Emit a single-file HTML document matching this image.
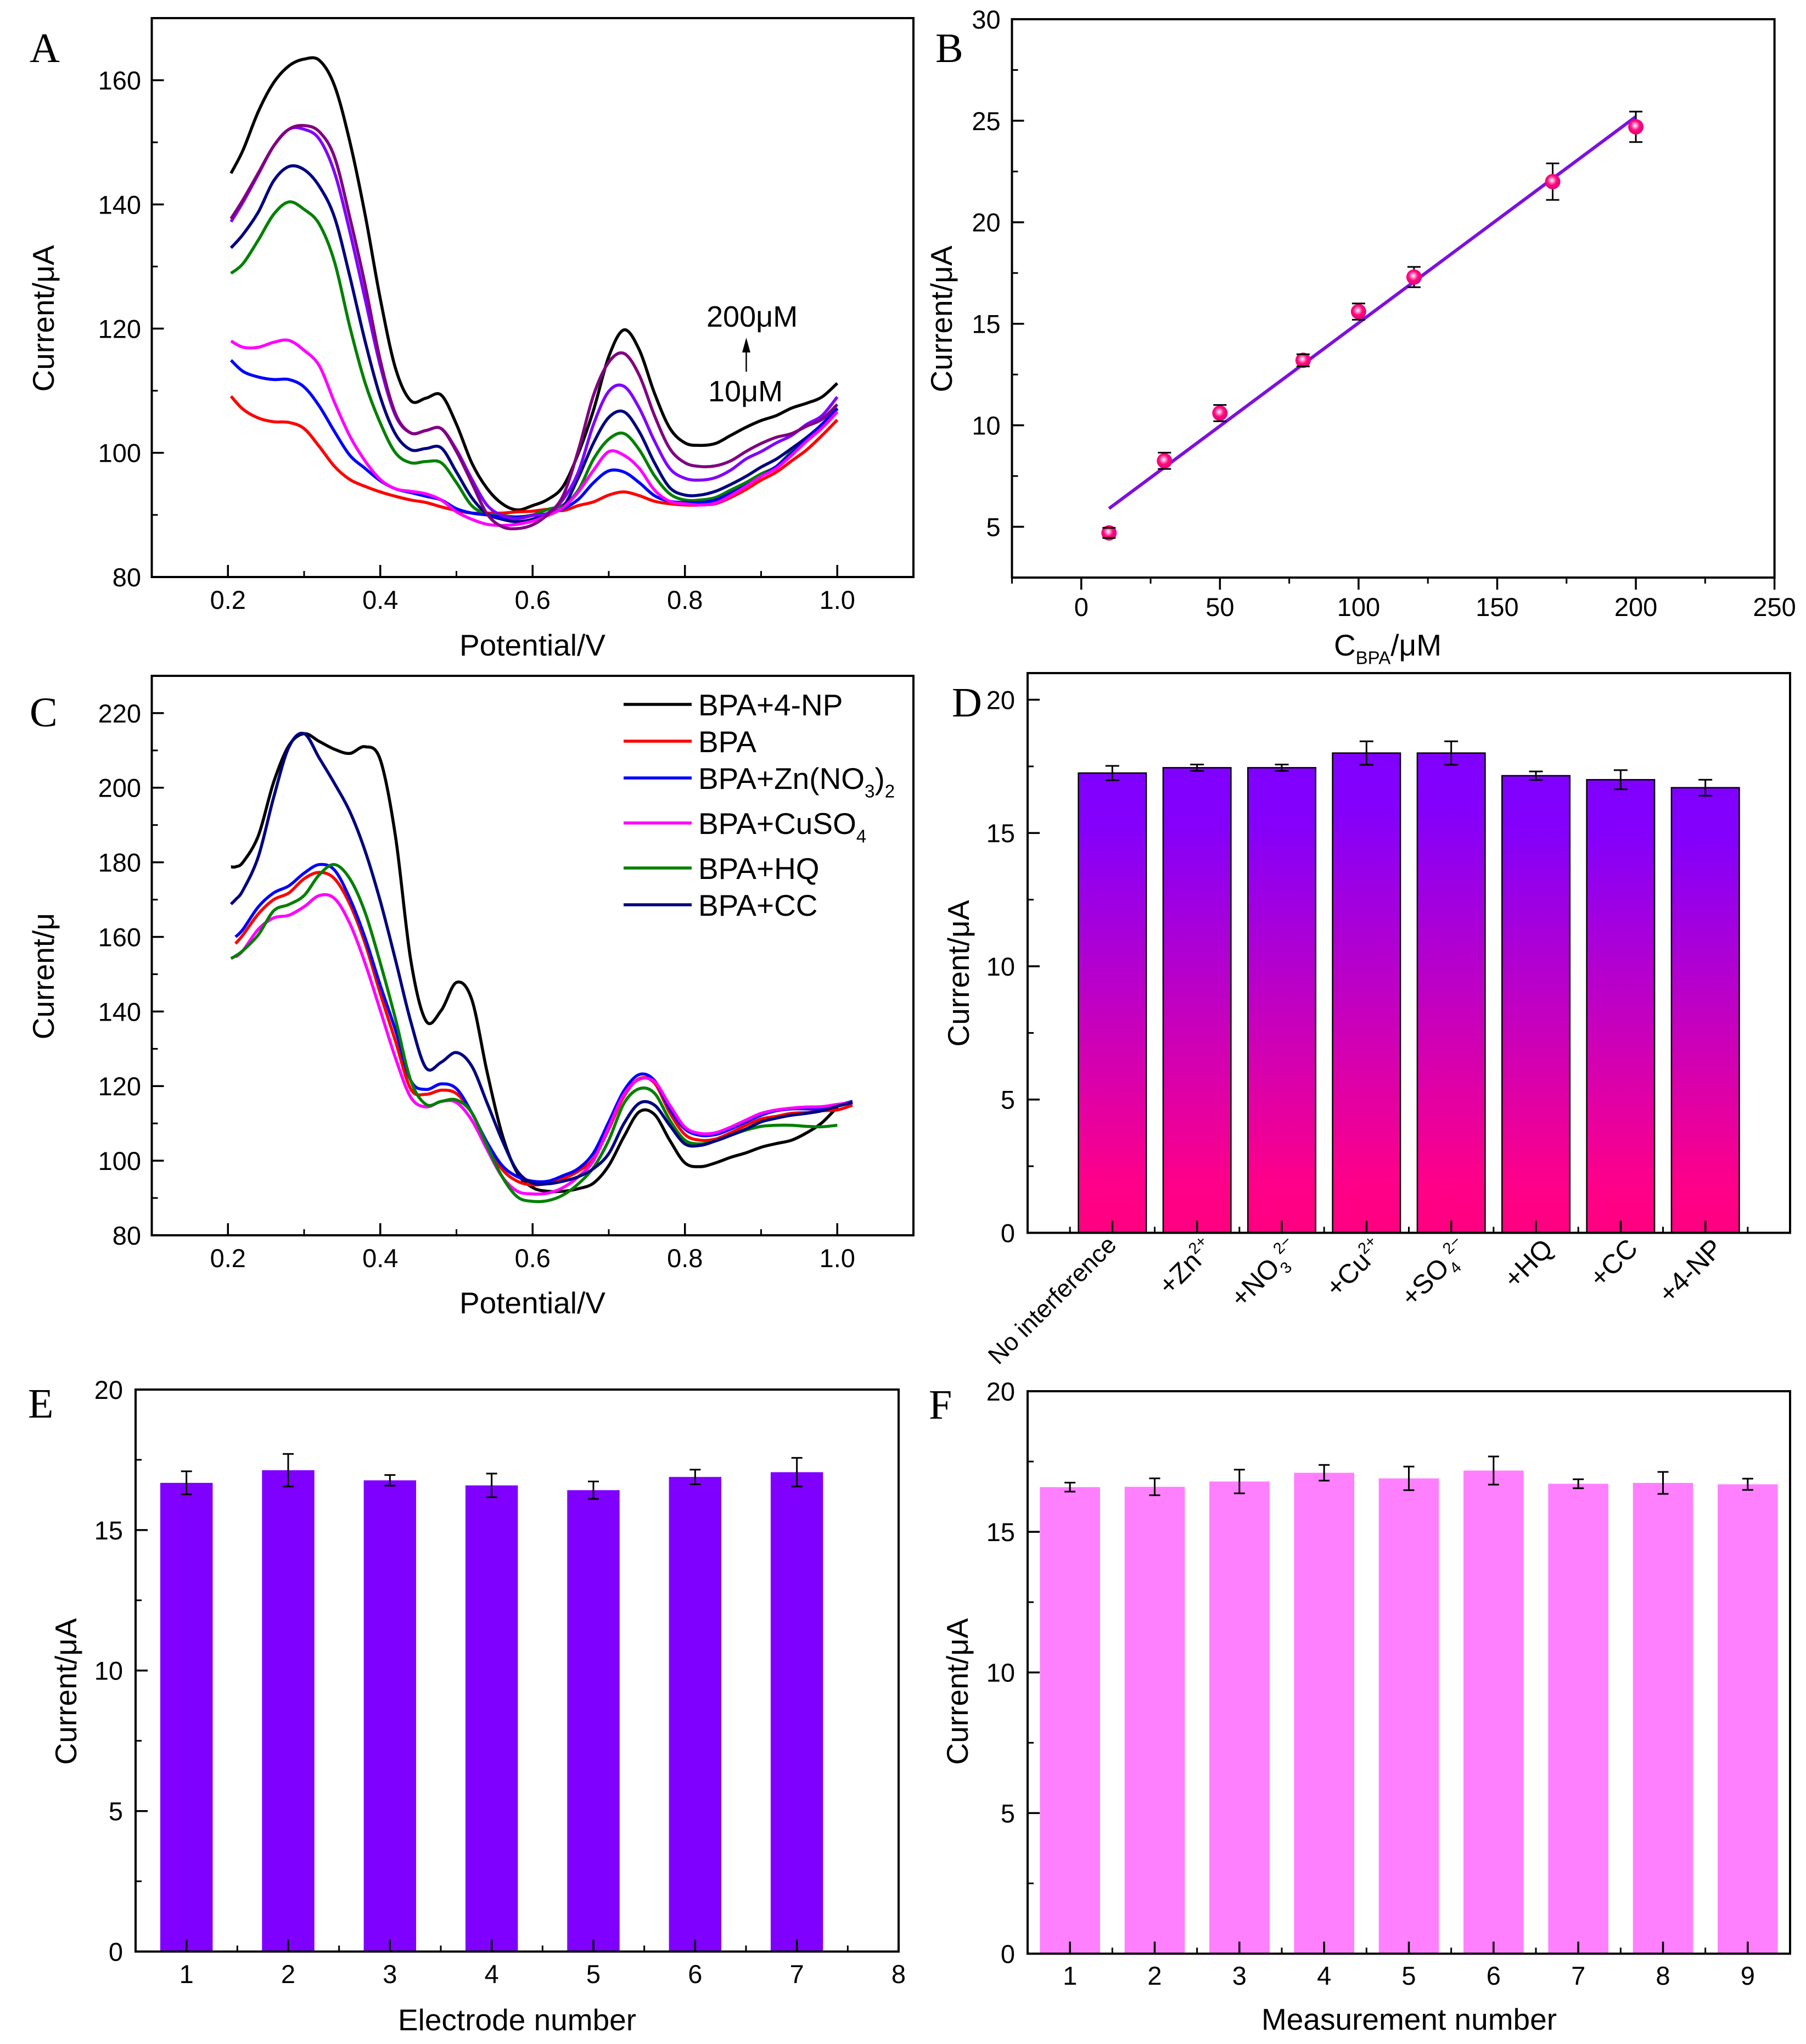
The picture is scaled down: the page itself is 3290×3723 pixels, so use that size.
<!DOCTYPE html>
<html lang="en">
<head>
<meta charset="utf-8">
<title>Electrochemical detection of BPA, six-panel figure</title>
<style>
html,body{margin:0;padding:0;background:#fff;}
svg{display:block;}
text{font-family:"Liberation Sans",sans-serif;fill:#000;}
</style>
</head>
<body>
<svg id="figure" xmlns="http://www.w3.org/2000/svg" width="3290" height="3723" viewBox="0 0 3290 3723">
  <defs>
    <linearGradient id="barGradient" x1="0" y1="0" x2="0" y2="1">
      <stop offset="0" stop-color="#8000ff"/>
      <stop offset="0.12" stop-color="#8400fb"/>
      <stop offset="0.9" stop-color="#ff0088"/>
      <stop offset="1" stop-color="#ff0080"/>
    </linearGradient>
    <radialGradient id="markerGradient" cx="0.45" cy="0.42" r="0.55">
      <stop offset="0" stop-color="#ffffff"/>
      <stop offset="0.25" stop-color="#ff90c8"/>
      <stop offset="0.55" stop-color="#ff0a80"/>
      <stop offset="1" stop-color="#e80078"/>
    </radialGradient>
  </defs>
</svg>
<script>
// ---------- Panel A data ----------
const aPotential = [0.204,0.22,0.24,0.26,0.28,0.30,0.32,0.34,0.36,0.38,0.40,0.42,0.44,0.46,0.48,0.50,0.52,0.54,0.56,0.58,0.60,0.62,0.64,0.66,0.68,0.70,0.72,0.74,0.76,0.78,0.80,0.82,0.84,0.86,0.88,0.90,0.92,0.94,0.96,0.98,1.0];
const a200uM = [145,148.8,155,159.6,162.3,163.4,163.2,159.1,150.1,138.4,124.8,113.6,108.4,108.8,109.3,104.6,98.4,94.3,91.8,90.8,91.5,92.5,94.6,99.9,106.9,115.5,119.8,116.6,109.6,104,101.6,101.2,101.5,102.8,104.1,105.2,106,107.2,108,109,111.2];
const a170uM = [137.7,140.8,145.1,149.4,152.1,152.7,151.7,147.6,137.9,127.1,114.9,106.3,103.2,103.6,103.9,100.2,95.2,90.2,88.1,87.8,88.4,90.1,93.1,100.4,109.3,114.6,116,112.5,106,100.7,98.4,97.8,97.9,98.7,100.2,101.5,102.5,103.1,104.3,105.4,107.8];
const a120uM = [137.2,140.4,144.9,149.4,152.1,152.1,150.5,145.1,135.6,124.8,114,106,103.2,103.6,103.9,100.5,95.8,91.6,89.9,89.4,89.9,90.3,92.5,96.9,104.6,109.9,110.7,107.2,101.9,97.5,95.9,95.6,96,97.2,99,100.2,101.6,102.8,104.6,106,109];
const a100uM = [133,135.2,138.8,143.8,146.1,145.6,142.9,137.9,128.4,118,109,103,100.5,100.7,100.8,96.9,92.8,90.2,89.3,88.9,89.3,90.2,91.3,96,101.6,105.7,106.6,103.4,98.4,94.4,93.2,93.2,93.8,94.9,96.2,97.7,99,100.7,102.5,104.6,107.1];
const a80uM = [128.9,130.5,134.3,138.4,140.4,139.2,136.8,130.7,120.3,111.3,104.8,100,98.4,98.6,98.4,95.2,91.5,90.2,89.9,89.7,90,90.9,91.6,94,99,102.2,103.1,100.5,96.3,93.4,92.4,92.4,92.8,94,95.2,96.6,97.8,100.2,102.2,104.6,107.2];
const a50uM = [118,117,117,117.8,118.1,116.5,114,108.1,102.7,98.7,95.7,94.2,93.8,93.4,92.4,90.5,89.3,88.5,88.3,88.5,89,89.9,91.2,93.7,97.2,100.2,99.6,97.5,94,92.2,91.8,91.6,91.9,93.1,94.6,96.2,97.5,99.6,101.9,104,106.6];
const a30uM = [114.9,113.1,112.2,111.8,111.8,110.6,107.5,103.4,99.6,97.5,95.5,94.2,93.6,93,92.4,91,90.3,90,89.6,89.6,89.9,90.2,91,92.5,95.2,97.1,96.9,95.2,93.1,92.2,92,92,92.4,93.5,94.7,96.2,97.8,99.9,102.2,104.6,107.1];
const a10uM = [109.1,107,105.6,105,104.9,103.9,101,97.8,95.7,94.6,93.7,93,92.4,92,91.3,90.7,90.3,90.3,90.3,90.5,90.6,90.9,90.7,91.5,92.1,93.2,93.7,93.1,92.2,91.8,91.6,91.6,91.8,92.8,94.1,95.6,96.9,98.7,100.5,102.8,105.3];

// ---------- Panel B data ----------
const bConcentration = [10,30,50,80,100,120,170,200];
const bCurrent = [4.7,8.25,10.6,13.2,15.6,17.3,22,24.7];
const bError = [0.25,0.4,0.4,0.3,0.4,0.5,0.9,0.75];
const bFitX = [10,200];
const bFitY = [5.9,25.2];

// ---------- Panel C data ----------
const cPotential = [0.204,0.21,0.22,0.24,0.26,0.28,0.30,0.32,0.34,0.36,0.38,0.40,0.42,0.44,0.46,0.48,0.50,0.52,0.54,0.56,0.58,0.60,0.62,0.64,0.66,0.68,0.70,0.72,0.74,0.76,0.78,0.80,0.82,0.84,0.86,0.88,0.90,0.92,0.94,0.96,0.98,1.0,1.02];
const c4NP = [178.8,178.8,180.1,187.2,201.5,211.3,214.5,212.4,210.3,209.2,211,207.5,186.9,153.8,137.5,140.3,147.8,143.3,124,107,96.7,92.8,91.8,91.8,92.5,94,98.7,106.5,113.1,112.4,105.5,99.4,98.4,99.4,100.9,102.1,103.6,104.6,105.5,107.5,110.2,114.4,null];
const cBPA = [null,158.2,160.6,166.2,170,171.8,175.6,177.3,175.6,168.8,158.3,144.8,132,119.2,117.8,118.9,118,112.9,104.6,97.7,94.5,93.5,94,95.2,97.2,100.6,108.5,117.3,122,120.8,112.9,107,105.5,105.8,107.5,109.5,111.2,111.9,112.7,112.9,113.4,113.6,114.9];
const cZn = [null,160,162.1,168.1,171.8,173.7,177.1,179.4,177.9,170.3,159.8,147,135,121.5,119.1,120.6,119.3,112.9,105,98.7,95.7,94.5,94.5,96,97.9,102.1,110.4,118.8,123.1,121.5,113.9,108.5,106.8,107,108.5,110.4,112.2,113.4,113.9,113.9,113.9,114.9,115.9];
const cCu = [null,154.6,156.4,162.1,165.1,165.8,168.1,171.1,170.3,163.6,153,140.3,127.5,117,114.4,115.9,115.6,110.9,103.1,95.7,91.8,91.1,91.3,92.8,95.7,100.1,109,117.8,121.8,121.2,114.9,109,107.3,107.5,109,110.9,112.7,113.6,114.1,114.4,114.5,115.1,115.6];
const cHQ = [154.2,154.9,156.4,160.6,167,168.7,171.1,176.7,179.4,175.6,166.6,153,138,121.5,115.1,115.9,116.3,112.9,104.1,95.7,90.3,89.1,89.3,90.8,93.8,98.2,105.5,115.4,119.3,118.1,110.9,105.5,104.5,105.3,106.8,108.2,109.2,109.5,109.5,109.2,109.1,109.5,null];
const cCC = [168.8,170,172.6,181.6,197.4,210.9,214.5,207.9,201.1,193.6,183.1,169.6,153.8,137.3,124.9,126.4,129,125.4,115.6,105.5,97.2,94,93.8,94.5,95.7,97.9,101.9,110,115.4,114.9,109.5,104.5,104.1,105.3,106.8,108.5,110.4,111.4,112.2,112.7,113.4,114.6,115.6];
const cLegendLabels = ['BPA+4-NP','BPA','BPA+Zn(NO_{3})_{2}','BPA+CuSO_{4}','BPA+HQ','BPA+CC'];

// ---------- Panel D data ----------
const dCategories = ['No interference','+Zn^{2+}','+NO_{3}^{2−}','+Cu^{2+}','+SO_{4}^{2−}','+HQ','+CC','+4-NP'];
const dCurrent = [17.25,17.45,17.45,18,18,17.15,17,16.7];
const dError = [0.27,0.12,0.12,0.44,0.44,0.16,0.36,0.3];

// ---------- Panel E data ----------
const eElectrode = [1,2,3,4,5,6,7];
const eCurrent = [16.68,17.13,16.77,16.59,16.42,16.89,17.06];
const eError = [0.41,0.58,0.19,0.42,0.31,0.26,0.51];

// ---------- Panel F data ----------
const fMeasurement = [1,2,3,4,5,6,7,8,9];
const fCurrent = [16.59,16.6,16.79,17.1,16.9,17.18,16.71,16.74,16.69];
const fError = [0.16,0.3,0.42,0.28,0.42,0.5,0.16,0.39,0.2];

// ---------- Tick labels ----------
const aYTicks = [80,100,120,140,160];
const aYMinor = [90,110,130,150];
const vXTicks = ['0.2','0.4','0.6','0.8','1.0'];
const vXMinor = [0.3,0.5,0.7,0.9];
const bXTicks = [0,50,100,150,200,250];
const bXMinor = [-25,25,75,125,175,225];
const bYTicks = [5,10,15,20,25,30];
const bYMinor = [7.5,12.5,17.5,22.5,27.5];
const cYTicks = [80,100,120,140,160,180,200,220];
const cYMinor = [90,110,130,150,170,190,210];
const barYTicks = [0,5,10,15,20];
const barYMinor = [2.5,7.5,12.5,17.5];
const dXMinor = [0.5,1.5,2.5,3.5,4.5,5.5,6.5,7.5,8.5];
const eXTicks = [1,2,3,4,5,6,7,8];
const eXMinor = [1.5,2.5,3.5,4.5,5.5,6.5,7.5];
const fXMinor = [1.5,2.5,3.5,4.5,5.5,6.5,7.5,8.5];

// ---------- Helpers ----------
const NS = 'http://www.w3.org/2000/svg';
const root = document.getElementById('figure');

function make(tag, parent, attrs) {
  const node = document.createElementNS(NS, tag);
  for (const k in attrs) node.setAttribute(k, attrs[k]);
  parent.appendChild(node);
  return node;
}
function linear(d0, d1, r0, r1) {
  return v => r0 + (v - d0) / (d1 - d0) * (r1 - r0);
}
function fillMarkup(node, str, size) {
  const small = Math.round(size * 0.6);
  const parts = str.split(/(_\{[^}]*\}|\^\{[^}]*\})/).filter(s => s.length);
  let level = 0;
  parts.forEach(p => {
    const t = document.createElementNS(NS, 'tspan');
    let target = 0;
    let body = p;
    if (p.startsWith('_{')) { target = size * 0.28; body = p.slice(2, -1); t.setAttribute('font-size', small); }
    else if (p.startsWith('^{')) { target = -size * 0.42; body = p.slice(2, -1); t.setAttribute('font-size', small); }
    const dy = target - level;
    if (dy !== 0) t.setAttribute('dy', dy);
    level = target;
    t.textContent = body;
    node.appendChild(t);
  });
}
function label(parent, str, x, y, size, anchor, rotate, family) {
  const t = make('text', parent, { x: x, y: y, 'font-size': size, 'text-anchor': anchor || 'start' });
  if (rotate) t.setAttribute('transform', 'rotate(' + rotate + ' ' + x + ' ' + y + ')');
  if (family) t.setAttribute('style', 'font-family:' + family);
  fillMarkup(t, str, size);
  return t;
}
function smoothPath(xs, ys, sx, sy) {
  const pts = [];
  xs.forEach((x, i) => { if (ys[i] !== null) pts.push([sx(x), sy(ys[i])]); });
  let d = 'M' + pts[0][0].toFixed(1) + ' ' + pts[0][1].toFixed(1);
  for (let i = 0; i < pts.length - 1; i++) {
    const p0 = pts[Math.max(i - 1, 0)], p1 = pts[i], p2 = pts[i + 1], p3 = pts[Math.min(i + 2, pts.length - 1)];
    const c1x = p1[0] + (p2[0] - p0[0]) / 6, c1y = p1[1] + (p2[1] - p0[1]) / 6;
    const c2x = p2[0] - (p3[0] - p1[0]) / 6, c2y = p2[1] - (p3[1] - p1[1]) / 6;
    d += 'C' + c1x.toFixed(1) + ' ' + c1y.toFixed(1) + ' ' + c2x.toFixed(1) + ' ' + c2y.toFixed(1) + ' ' + p2[0].toFixed(1) + ' ' + p2[1].toFixed(1);
  }
  return d;
}

const TICK_FONT = 47, TITLE_FONT = 55, LETTER_FONT = 76, MAJOR = 22, MINOR = 11, AXIS_W = 4, CURVE_W = 5.5;

function drawFrame(g, box) {
  const frame = make('rect', g, { x: box.left, y: box.top, width: box.right - box.left, height: box.bottom - box.top, fill: 'none', stroke: '#000', 'stroke-width': AXIS_W });
  
  
}
function drawYAxis(g, box, sy, ticks, minor, labelRight) {
  ticks.forEach(v => {
    const tick = make('line', g, { x1: box.left, x2: box.left + MAJOR, y1: sy(v), y2: sy(v), stroke: '#000', 'stroke-width': 3.5 });
    
    
    const text = label(g, String(v), labelRight, sy(v) + TICK_FONT * 0.36, TICK_FONT, 'end');
    
    
  });
  minor.forEach(v => {
    const tick = make('line', g, { x1: box.left, x2: box.left + MINOR, y1: sy(v), y2: sy(v), stroke: '#000', 'stroke-width': 3 });
    
    
  });
}
function drawXAxis(g, box, sx, ticks, minor, labelBase, dir) {
  ticks.forEach(v => {
    const tick = make('line', g, { x1: sx(+v), x2: sx(+v), y1: box.bottom, y2: box.bottom + dir * MAJOR, stroke: '#000', 'stroke-width': 3.5 });
    
    
    if (labelBase !== null) {
      const text = label(g, String(v), sx(+v), labelBase, TICK_FONT, 'middle');
      
      
    }
  });
  minor.forEach(v => {
    const tick = make('line', g, { x1: sx(v), x2: sx(v), y1: box.bottom, y2: box.bottom + dir * MINOR, stroke: '#000', 'stroke-width': 3 });
    
    
  });
}
function titles(g, letter, lx, ly, xTitle, xtx, xty, yTitle, ytx, yty) {
  const l = label(g, letter, lx, ly, LETTER_FONT, 'start', 0, '"Liberation Serif",serif');
  
  
  const xt = label(g, xTitle, xtx, xty, TITLE_FONT, 'middle');
  
  
  const yt = label(g, yTitle, ytx, yty, TITLE_FONT, 'middle', -90);
  
  
}
function errorBar(g, x, yLow, yHigh, capHalf) {
  const stem = make('line', g, { x1: x, x2: x, y1: yLow, y2: yHigh, stroke: '#000', 'stroke-width': 3 });
  
  
  const capA = make('line', g, { x1: x - capHalf, x2: x + capHalf, y1: yLow, y2: yLow, stroke: '#000', 'stroke-width': 3 });
  
  
  const capB = make('line', g, { x1: x - capHalf, x2: x + capHalf, y1: yHigh, y2: yHigh, stroke: '#000', 'stroke-width': 3 });
  
  
}
function panelGroup(name) {
  const g = make('g', root, {});
  
  
  return g;
}

// ---------- Panel A ----------
(function () {
  const g = panelGroup('panel-a');
  const box = { left: 276.5, right: 1664, top: 33, bottom: 1051 };
  const sx = linear(0.1, 1.1, box.left, box.right);
  const sy = linear(80, 170, box.bottom, box.top);
  const series = [
    ['curve-200-um', a200uM, '#000000'],
    ['curve-10-um', a10uM, '#ff0000'],
    ['curve-80-um', a80uM, '#008000'],
    ['curve-100-um', a100uM, '#000080'],
    ['curve-30-um', a30uM, '#0000ff'],
    ['curve-50-um', a50uM, '#ff00ff'],
    ['curve-120-um', a120uM, '#8000ff'],
    ['curve-170-um', a170uM, '#800080']
  ];
  series.forEach(s => {
    const p = make('path', g, { d: smoothPath(aPotential, s[1], sx, sy), fill: 'none', stroke: s[2], 'stroke-width': CURVE_W, 'stroke-linejoin': 'round' });
    
    
  });
  drawFrame(g, box);
  drawYAxis(g, box, sy, aYTicks, aYMinor, 257);
  drawXAxis(g, box, sx, vXTicks, vXMinor, 1109, -1);
  titles(g, 'A', 54, 113, 'Potential/V', 970, 1194, 'Current/μA', 98, 580);
  const hi = label(g, '200μM', 1287, 595, 54, 'start');
  
  
  const lo = label(g, '10μM', 1290, 731, 54, 'start');
  
  
  const shaft = make('line', g, { x1: 1359.5, x2: 1359.5, y1: 677, y2: 635, stroke: '#000', 'stroke-width': 2.5 });
  
  
  const head = make('polygon', g, { points: '1359.5,615 1352,642 1367,642', fill: '#000' });
  
  
})();

// ---------- Panel B ----------
(function () {
  const g = panelGroup('panel-b');
  const box = { left: 1843.5, right: 3232.6, top: 35, bottom: 1052 };
  const sx = linear(-25, 250, box.left, box.right);
  const sy = linear(2.5, 30, box.bottom, box.top);
  const fit = make('line', g, { x1: sx(bFitX[0]), y1: sy(bFitY[0]), x2: sx(bFitX[1]), y2: sy(bFitY[1]), stroke: '#7d10e0', 'stroke-width': 6 });
  
  
  bConcentration.forEach((c, i) => {
    const stem = make('line', g, { x1: sx(c), x2: sx(c), y1: sy(bCurrent[i] - bError[i]), y2: sy(bCurrent[i] + bError[i]), stroke: '#000', 'stroke-width': 3 });
    
    
    const m = make('circle', g, { cx: sx(c), cy: sy(bCurrent[i]), r: 14, fill: 'url(#markerGradient)' });
    
    
    [bCurrent[i] - bError[i], bCurrent[i] + bError[i]].forEach(v => {
      const cap = make('line', g, { x1: sx(c) - 12, x2: sx(c) + 12, y1: sy(v), y2: sy(v), stroke: '#000', 'stroke-width': 3 });
      
      
    });
  });
  drawFrame(g, box);
  drawYAxis(g, box, sy, bYTicks, bYMinor, 1822.6);
  drawXAxis(g, box, sx, bXTicks, bXMinor, 1122, 1);
  titles(g, 'B', 1704, 113, 'C_{BPA}/μM', 2528, 1194, 'Current/μA', 1734, 581);
})();

// ---------- Panel C ----------
(function () {
  const g = panelGroup('panel-c');
  const box = { left: 276.5, right: 1664, top: 1231, bottom: 2250 };
  const sx = linear(0.1, 1.1, box.left, box.right);
  const sy = linear(80, 230, box.bottom, box.top);
  const series = [
    ['curve-bpa-4-np', c4NP, '#000000'],
    ['curve-bpa', cBPA, '#ff0000'],
    ['curve-bpa-zn-no3', cZn, '#0000ff'],
    ['curve-bpa-cuso4', cCu, '#ff00ff'],
    ['curve-bpa-hq', cHQ, '#008000'],
    ['curve-bpa-cc', cCC, '#000080']
  ];
  series.forEach(s => {
    const p = make('path', g, { d: smoothPath(cPotential, s[1], sx, sy), fill: 'none', stroke: s[2], 'stroke-width': CURVE_W, 'stroke-linejoin': 'round' });
    
    
  });
  drawFrame(g, box);
  drawYAxis(g, box, sy, cYTicks, cYMinor, 257);
  drawXAxis(g, box, sx, vXTicks, vXMinor, 2308, -1);
  titles(g, 'C', 54, 1323, 'Potential/V', 970, 2392, 'Current/μ', 98, 1778);
  const legendRows = [1283, 1350, 1417, 1499, 1581, 1648];
  series.forEach((s, i) => {
    const sw = make('line', g, { x1: 1136, x2: 1260, y1: legendRows[i], y2: legendRows[i], stroke: s[2], 'stroke-width': 5.5 });
    
    
    const t = label(g, cLegendLabels[i], 1272, legendRows[i] + 20, 55, 'start');
    
    
  });
})();

// ---------- Panel D ----------
(function () {
  const g = panelGroup('panel-d');
  const box = { left: 1872, right: 3261, top: 1226, bottom: 2245.5 };
  const sx = linear(0, 9, box.left, box.right);
  const sy = linear(0, 21, box.bottom, box.top);
  const barW = (sx(1) - sx(0)) * 0.8;
  dCurrent.forEach((v, i) => {
    const x = sx(i + 1);
    const bar = make('rect', g, { x: x - barW / 2, y: sy(v), width: barW, height: sy(0) - sy(v), fill: 'url(#barGradient)', stroke: '#000', 'stroke-width': 2.5 });
    
    
    errorBar(g, x, sy(v - dError[i]), sy(v + dError[i]), 12.5);
  });
  drawFrame(g, box);
  drawYAxis(g, box, sy, barYTicks, barYMinor, 1849);
  drawXAxis(g, box, sx, [1,2,3,4,5,6,7,8], dXMinor, null, -1);
  dCategories.forEach((c, i) => {
    const isLong = c.indexOf(' ') >= 0;
    const t = label(g, c, sx(i + 1) + (isLong ? 10 : 34), isLong ? 2270 : 2277, isLong ? 45 : 49, 'end', -45);
    
    
  });
  const l = label(g, 'D', 1734, 1305, LETTER_FONT, 'start', 0, '"Liberation Serif",serif');
  
  
  const yt = label(g, 'Current/μA', 1765, 1773, TITLE_FONT, 'middle', -90);
  
  
})();

// ---------- Panel E ----------
(function () {
  const g = panelGroup('panel-e');
  const box = { left: 247, right: 1637, top: 2531, bottom: 3554.6 };
  const sx = linear(0.5, 8, box.left, box.right);
  const sy = linear(0, 20, box.bottom, box.top);
  const barW = (sx(1) - sx(0)) * 0.515;
  eElectrode.forEach((n, i) => {
    const x = sx(n);
    const bar = make('rect', g, { x: x - barW / 2, y: sy(eCurrent[i]), width: barW, height: sy(0) - sy(eCurrent[i]), fill: '#8000ff' });
    
    
    errorBar(g, x, sy(eCurrent[i] - eError[i]), sy(eCurrent[i] + eError[i]), 10);
  });
  drawFrame(g, box);
  drawYAxis(g, box, sy, barYTicks, barYMinor, 224);
  drawXAxis(g, box, sx, eXTicks, eXMinor, 3612, -1);
  titles(g, 'E', 51, 2582, 'Electrode number', 942, 3698, 'Current/μA', 139, 3081);
})();

// ---------- Panel F ----------
(function () {
  const g = panelGroup('panel-f');
  const box = { left: 1872, right: 3261, top: 2534, bottom: 3558.5 };
  const sx = linear(0.5, 9.5, box.left, box.right);
  const sy = linear(0, 20, box.bottom, box.top);
  const barW = (sx(1) - sx(0)) * 0.71;
  fMeasurement.forEach((n, i) => {
    const x = sx(n);
    const bar = make('rect', g, { x: x - barW / 2, y: sy(fCurrent[i]), width: barW, height: sy(0) - sy(fCurrent[i]), fill: '#ff80ff' });
    
    
    errorBar(g, x, sy(fCurrent[i] - fError[i]), sy(fCurrent[i] + fError[i]), 10);
  });
  drawFrame(g, box);
  drawYAxis(g, box, sy, barYTicks, barYMinor, 1849);
  drawXAxis(g, box, sx, fMeasurement, fXMinor, 3615, -1);
  titles(g, 'F', 1692, 2584, 'Measurement number', 2567, 3697, 'Current/μA', 1763, 3081);
})();
</script>
</body>
</html>
